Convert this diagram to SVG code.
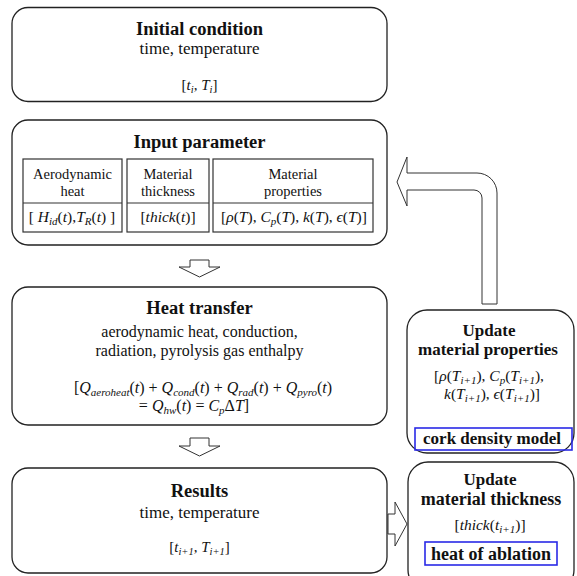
<svg xmlns="http://www.w3.org/2000/svg" width="577" height="576" viewBox="0 0 577 576">
<style>
.bx{fill:#fff;stroke:#222;stroke-width:1.3}
.cell{fill:#fff;stroke:#333;stroke-width:1.2}
.blue{fill:none;stroke:#2a2ae6;stroke-width:1.6}
.ar{fill:#fff;stroke:#333;stroke-width:1}
text{font-family:'Liberation Serif','Times New Roman','DejaVu Serif',serif;fill:#111;text-anchor:middle}
.h{font-weight:bold;font-size:18.5px}
.hs{font-weight:bold;font-size:17px}
.ht2{font-weight:bold;font-size:18px}
.n{font-size:17px}
.ht{font-size:16px}
.c{font-size:14.5px}
.m{font-size:15px}
.m2{font-size:15.5px}
.mh{font-size:16px}
.i{font-style:italic}
.s{font-size:10.5px;font-style:italic}
.s2{font-size:11px;font-style:italic}
</style>
<rect width="577" height="576" fill="#fff"/>

<g id="connectors">
  <path class="ar" d="M190,260 L209,260 L209,267 L220,267 L199.5,277 L179,267 L190,267 Z"/>
  <path class="ar" d="M190,438 L209,438 L209,446 L220,446 L199.5,456 L179,446 L190,446 Z"/>
  <path class="ar" d="M388,514 L395,514 L395,502 L407,524 L395,546 L395,534 L388,534 Z"/>
  <path class="ar" d="M397,182 L407,157 L407,173 L477,173 A20,20 0 0 1 497,193 L497,304 L482,304 L482,198 A8,8 0 0 0 474,190 L407,190 L407,206 Z"/>
</g>

<g id="initial-condition">
  <rect class="bx" x="12" y="7.5" width="375" height="94" rx="16"/>
  <text class="h" x="199.5" y="35">Initial condition</text>
  <text class="n" x="199.5" y="54">time, temperature</text>
  <text class="m" x="199.5" y="90">[<tspan class="i">t</tspan><tspan class="s" dy="3">i</tspan><tspan dy="-3">, </tspan><tspan class="i">T</tspan><tspan class="s" dy="3">i</tspan><tspan dy="-3">]</tspan></text>
</g>

<g id="input-parameter">
  <rect class="bx" x="12" y="120" width="375" height="125" rx="16"/>
  <text class="h" x="199.5" y="148">Input parameter</text>
  <rect class="cell" x="23" y="159" width="99" height="73"/>
  <line class="cell" x1="23" y1="203" x2="122" y2="203"/>
  <rect class="cell" x="127" y="159" width="82" height="73"/>
  <line class="cell" x1="127" y1="203" x2="209" y2="203"/>
  <rect class="cell" x="213" y="159" width="160" height="73"/>
  <line class="cell" x1="213" y1="203" x2="373" y2="203"/>
  <text class="c" x="72.5" y="179">Aerodynamic</text>
  <text class="c" x="72.5" y="196">heat</text>
  <text class="m2" x="72" y="222">[ <tspan class="i">H</tspan><tspan class="s2" dy="3">id</tspan><tspan dy="-3">(</tspan><tspan class="i">t</tspan>),<tspan class="i">T</tspan><tspan class="s2" dy="3">R</tspan><tspan dy="-3">(</tspan><tspan class="i">t</tspan>) ]</text>
  <text class="c" x="168" y="179">Material</text>
  <text class="c" x="168" y="196">thickness</text>
  <text class="m2" x="168" y="222">[<tspan class="i">thick</tspan>(<tspan class="i">t</tspan>)]</text>
  <text class="c" x="293" y="179">Material</text>
  <text class="c" x="293" y="196">properties</text>
  <text class="m2" x="294" y="222">[<tspan class="i">ρ</tspan>(<tspan class="i">T</tspan>), <tspan class="i">C</tspan><tspan class="s2" dy="3">p</tspan><tspan dy="-3">(</tspan><tspan class="i">T</tspan>),  <tspan class="i">k</tspan>(<tspan class="i">T</tspan>),  <tspan class="i">ϵ</tspan>(<tspan class="i">T</tspan>)]</text>
</g>

<g id="heat-transfer">
  <rect class="bx" x="12" y="287" width="375" height="138" rx="16"/>
  <text class="h" x="199.5" y="314">Heat transfer</text>
  <text class="ht" x="199.5" y="337">aerodynamic heat, conduction,</text>
  <text class="ht" x="199.5" y="356">radiation, pyrolysis gas enthalpy</text>
  <text class="mh" x="203" y="393">[<tspan class="i">Q</tspan><tspan class="s2" dy="3">aeroheat</tspan><tspan dy="-3">(</tspan><tspan class="i">t</tspan>) + <tspan class="i">Q</tspan><tspan class="s2" dy="3">cond</tspan><tspan dy="-3">(</tspan><tspan class="i">t</tspan>) + <tspan class="i">Q</tspan><tspan class="s2" dy="3">rad</tspan><tspan dy="-3">(</tspan><tspan class="i">t</tspan>) + <tspan class="i">Q</tspan><tspan class="s2" dy="3">pyro</tspan><tspan dy="-3">(</tspan><tspan class="i">t</tspan>)</text>
  <text class="mh" x="194" y="411">= <tspan class="i">Q</tspan><tspan class="s2" dy="3">hw</tspan><tspan dy="-3">(</tspan><tspan class="i">t</tspan>) = <tspan class="i">C</tspan><tspan class="s2" dy="3">p</tspan><tspan dy="-3">Δ</tspan><tspan class="i">T</tspan>]</text>
</g>

<g id="results">
  <rect class="bx" x="12" y="468" width="375" height="105" rx="16"/>
  <text class="h" x="199.5" y="497">Results</text>
  <text class="n" x="199.5" y="518">time, temperature</text>
  <text class="m" x="199.5" y="552">[<tspan class="i">t</tspan><tspan class="s" dy="3">i+1</tspan><tspan dy="-3">, </tspan><tspan class="i">T</tspan><tspan class="s" dy="3">i+1</tspan><tspan dy="-3">]</tspan></text>
</g>

<g id="update-material-properties">
  <rect class="bx" x="407" y="310" width="167" height="143" rx="20"/>
  <text class="hs" x="489" y="336">Update</text>
  <text class="hs" x="488" y="355">material properties</text>
  <text class="m2" x="489" y="381">[<tspan class="i">ρ</tspan>(<tspan class="i">T</tspan><tspan class="s2" dy="3">i+1</tspan><tspan dy="-3">), </tspan><tspan class="i">C</tspan><tspan class="s2" dy="3">p</tspan><tspan dy="-3">(</tspan><tspan class="i">T</tspan><tspan class="s2" dy="3">i+1</tspan><tspan dy="-3">),</tspan></text>
  <text class="m2" x="492" y="399"><tspan class="i">k</tspan>(<tspan class="i">T</tspan><tspan class="s2" dy="3">i+1</tspan><tspan dy="-3">),  </tspan><tspan class="i">ϵ</tspan>(<tspan class="i">T</tspan><tspan class="s2" dy="3">i+1</tspan><tspan dy="-3">)]</tspan></text>
  <rect class="blue" x="415" y="428" width="157" height="22"/>
  <text class="hs" x="492" y="444">cork density model</text>
</g>

<g id="update-material-thickness">
  <rect class="bx" x="408" y="462" width="166" height="128" rx="20"/>
  <text class="hs" x="490" y="485">Update</text>
  <text class="ht2" x="491" y="505">material thickness</text>
  <text class="m2" x="490" y="530">[<tspan class="i">thick</tspan>(<tspan class="i">t</tspan><tspan class="s2" dy="3">i+1</tspan><tspan dy="-3">)]</tspan></text>
  <rect class="blue" x="425" y="542" width="132" height="23"/>
  <text class="ht2" x="491" y="560">heat of ablation</text>
</g>
</svg>
